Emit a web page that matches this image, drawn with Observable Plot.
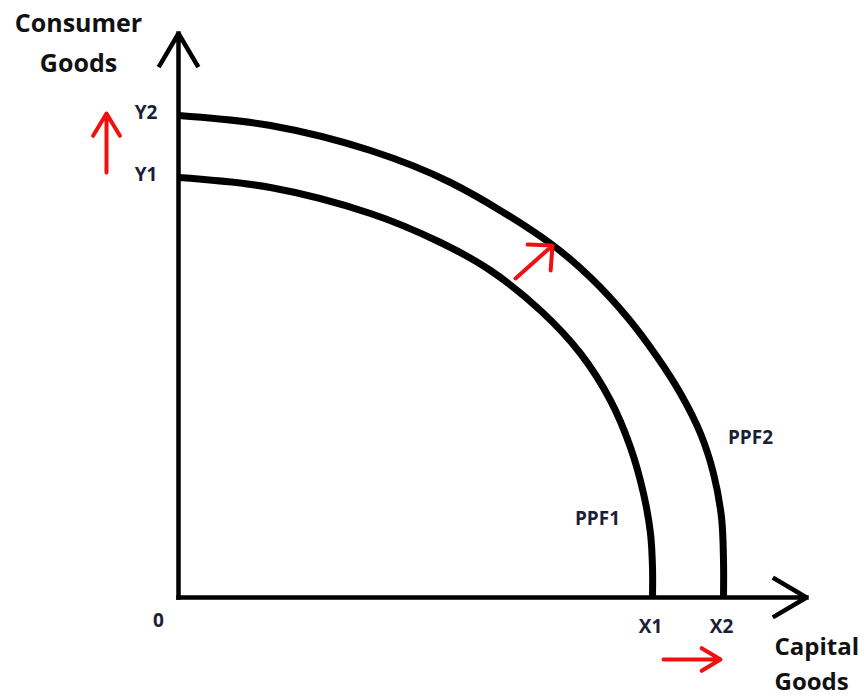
<!DOCTYPE html>
<html><head><meta charset="utf-8">
<script src="https://cdn.jsdelivr.net/npm/d3@7"></script>
<script src="https://cdn.jsdelivr.net/npm/@observablehq/plot@0.6"></script>
<style>html,body{margin:0;padding:0;background:#fff;overflow:hidden}</style>
</head><body><div id="chart"></div>
<script>
// Production possibility frontiers
const ppf1X = [0, 9.2, 19.2, 26.2, 31.2, 36.2, 40.2, 43.2, 45.2, 46.5, 47.2, 47.4, 47.4];
const ppf1Y = [42.0, 41.0, 38.4, 35.5, 32.7, 28.7, 24.4, 19.7, 15.0, 10.4, 6.4, 3.0, 0];
const ppf2X = [0, 9.2, 19.2, 27.2, 37.2, 41.2, 44.9, 47.9, 50.2, 52.2, 53.5, 54.3, 54.5, 54.5];
const ppf2Y = [48.2, 47.2, 44.7, 41.5, 35.4, 32.0, 28.0, 24.0, 20.4, 16.4, 12.4, 8.0, 3.7, 0];
const curveNames = ["PPF1", "PPF2"];
const curveLabelX = [41.9, 57.2];
const curveLabelY = [7.9, 16.0];
// Axis tick labels
const yTickValues = [42.0, 48.2];
const yTickLabels = ["Y1", "Y2"];
const xTickValues = [47.4, 54.5];
const xTickLabels = ["X1", "X2"];
const originLabel = ["0"];
const axisTitles = ["Consumer\nGoods", "Capital\nGoods"];
const axisEndX = [62.8];
const axisEndY = [56.4];
// Red "shift" arrows (tail -> tip)
const shiftTailX = [-7.2, 33.7, 48.5];
const shiftTailY = [42.5, 31.9, -6.2];
const shiftTipX = [-7.2, 37.4, 54.2];
const shiftTipY = [48.4, 35.2, -6.2];

const xScale = {domain: [-17.8, 68.9], range: [0, 867]};
const yScale = {domain: [-10, 59.7], range: [697, 0]};
const xs = Plot.scale({x: xScale});
const ys = Plot.scale({y: yScale});

const ppf = [
  ...ppf1X.map((x, i) => ({curve: curveNames[0], x, y: ppf1Y[i]})),
  ...ppf2X.map((x, i) => ({curve: curveNames[1], x, y: ppf2Y[i]}))
];
const curveLabels = curveNames.map((name, i) => ({name, x: curveLabelX[i], y: curveLabelY[i]}));
const axes = [
  {x1: 0, y1: 0, x2: 0, y2: axisEndY[0]},
  {x1: 0, y1: 0, x2: axisEndX[0], y2: 0}
];

const RED = "#f01010";
const FONT = "Open Sans";
const LABEL = "#1b1e38";

function redArrow(i, headAngle, wing) {
  const d = {x1: shiftTailX[i], y1: shiftTailY[i], x2: shiftTipX[i], y2: shiftTipY[i]};
  const k = 2.5;
  const lenPx = Math.hypot(xs.apply(d.x2) - xs.apply(d.x1), ys.apply(d.y2) - ys.apply(d.y1));
  return Plot.arrow([d], {
    x1: (a) => a.x2 + (a.x1 - a.x2) * k,
    y1: (a) => a.y2 + (a.y1 - a.y2) * k,
    x2: "x2", y2: "y2",
    insetStart: lenPx * (k - 1),
    headAngle, headLength: wing * 1.5 / 4,
    stroke: RED, strokeWidth: 4
  });
}

const chart = Plot.plot({
  width: 867,
  height: 697,
  margin: 0,
  x: {...xScale, axis: null},
  y: {...yScale, axis: null},
  style: {background: "#fff", fontFamily: FONT, overflow: "visible"},
  marks: [
    Plot.arrow(axes, {x1: "x1", y1: "y1", x2: "x2", y2: "y2", stroke: "black", strokeWidth: 4.5,
      headAngle: 61, headLength: 12.3, strokeLinecap: "square"}),
    Plot.line(ppf, {x: "x", y: "y", z: "curve", stroke: "black", strokeWidth: 7,
      curve: "catmull-rom", strokeLinecap: "butt"}),
    redArrow(0, 62, 26),
    redArrow(1, 88, 25),
    redArrow(2, 62, 22),
    Plot.text(yTickValues, {x: 0, y: (d) => d, text: (d, i) => yTickLabels[i], textAnchor: "end",
      dx: -21, dy: -3, fontSize: 19, fontWeight: 700, fill: LABEL, fontFamily: FONT}),
    Plot.text(xTickValues, {x: (d) => d, y: 0, text: (d, i) => xTickLabels[i], textAnchor: "middle",
      dx: -2, dy: 29, fontSize: 19, fontWeight: 700, fill: LABEL, fontFamily: FONT}),
    Plot.text(originLabel, {x: 0, y: 0, text: (d) => d, dx: -20, dy: 23, fontSize: 19,
      fontWeight: 700, fill: LABEL, fontFamily: FONT}),
    Plot.text(curveLabels, {x: "x", y: "y", text: "name", fontSize: 19, fontWeight: 700,
      fill: LABEL, fontFamily: FONT}),
    Plot.text([axisTitles[0]], {frameAnchor: "top-left", dx: 78, dy: 3, text: (d) => d,
      textAnchor: "middle", lineAnchor: "top", lineHeight: 1.6, fontSize: 25, fontWeight: 700,
      fill: "#111", fontFamily: FONT}),
    Plot.text([axisTitles[1]], {frameAnchor: "top-left", dx: 774, dy: 630, text: (d) => d,
      textAnchor: "start", lineAnchor: "top", lineHeight: 1.45, fontSize: 24, fontWeight: 700,
      fill: "#111", fontFamily: FONT})
  ]
});
document.getElementById("chart").append(chart);
</script>
</body></html>
